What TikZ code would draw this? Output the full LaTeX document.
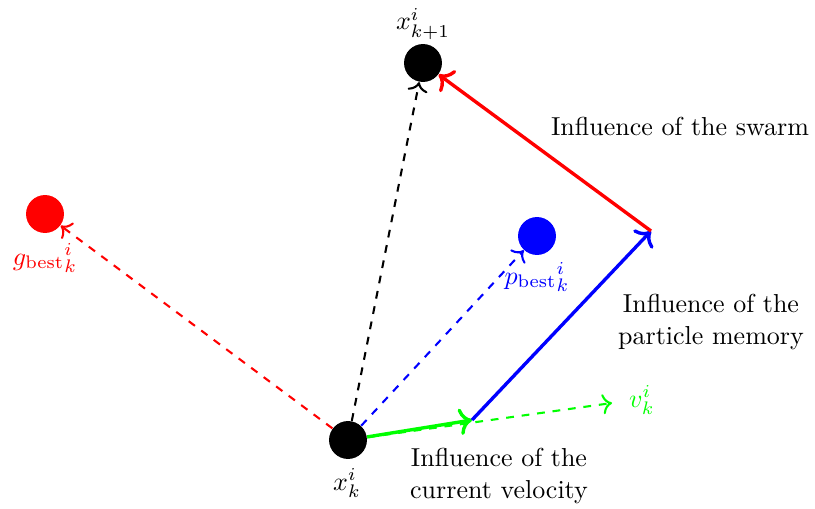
\documentclass[tikz,border=0pt]{standalone}
\usepackage{amsmath}
\usetikzlibrary{arrows.meta}
\begin{document}
\begin{tikzpicture}[x=0.385pt,y=-0.385pt,
  pt/.style={circle,fill=#1,inner sep=0pt,minimum size=14.6pt},
  solidarr/.style={-{To[scale=1.1]},line width=1.3pt,draw=#1},
  dasharr/.style={-{To[scale=1.1]},thick,dashed,draw=#1},
  lbl/.style={align=center,font=\normalsize}]
\useasboundingbox (0,0) rectangle (815,509);
\node[pt=black] (xk) at (348,440) {};
\node[pt=black] (xk1) at (423,63) {};
\node[pt=red] (gb) at (45,214) {};
\node[pt=blue] (pb) at (537,236) {};
\coordinate (m) at (472,420);
\coordinate (p) at (651,231);
\coordinate (v) at (612,403);
\node (xkl) at (347,483) {$x_k^i$};
\node (xk1l) at (423,24) {$x_{k+1}^i$};
\node[text=red] (gbl) at (45,258) {${g_{\mathrm{best}}}_k^i$};
\node[text=blue] (pbl) at (537,277) {${p_{\mathrm{best}}}_k^i$};
\node[text=green,anchor=west] (vl) at (620,400) {$v_k^i$};
\draw[dasharr=red] (xk) -- (gb);
\draw[dasharr=black] (xk) -- (xk1);
\draw[dasharr=blue] (xk) -- (pb);
\draw[dasharr=green] (xk) -- (v);
\draw[solidarr=green] (xk) -- (m);
\draw[solidarr=blue] (m) -- (p);
\draw[solidarr=red] (p) -- (xk1);
\node[lbl] (sw) at (680,126) {Influence of the swarm};
\node[lbl] (pm) at (711,322) {Influence of the\\particle memory};
\node[lbl] (cv) at (499,476) {Influence of the\\current velocity};
\end{tikzpicture}
\end{document}
